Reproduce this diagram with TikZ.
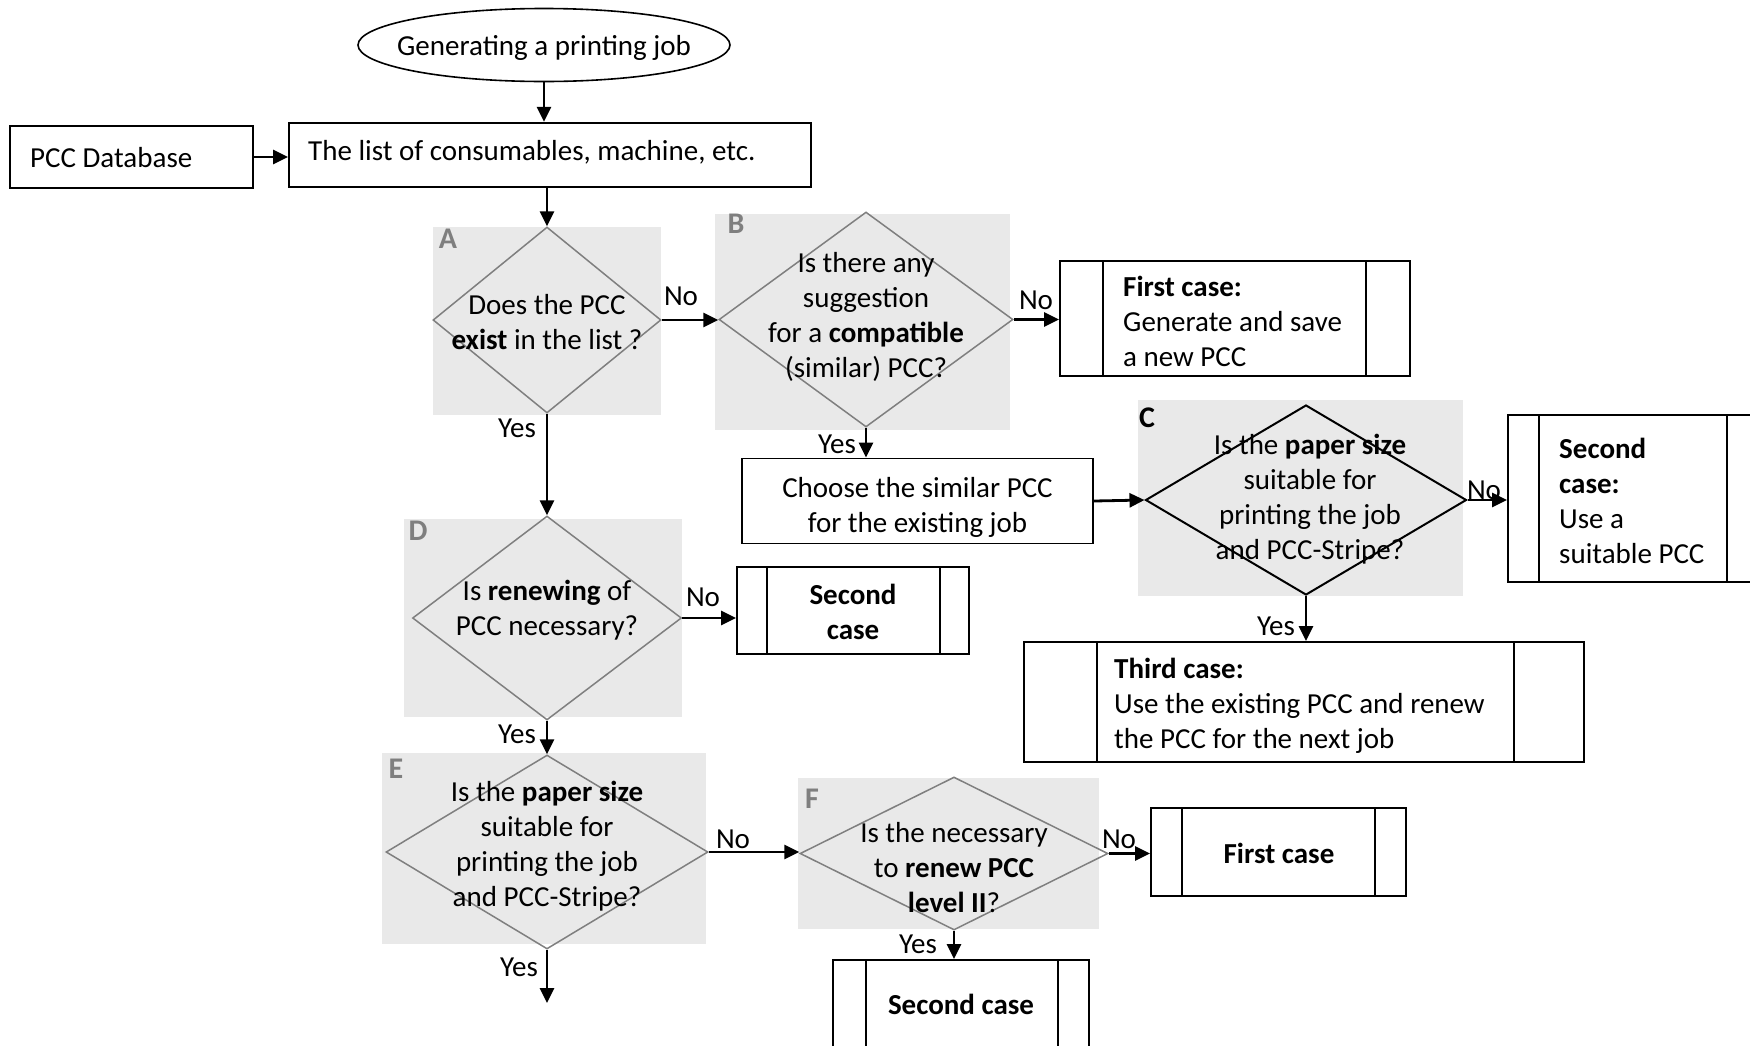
\documentclass[tikz,border=0pt]{standalone}
\usepackage{fontspec}
\setmainfont{Carlito}
\usetikzlibrary{shapes.geometric,arrows.meta,calc}

\definecolor{panel}{HTML}{E9E9E9}
\definecolor{rim}{HTML}{7F7F7F}
\definecolor{tagc}{HTML}{7F7F7F}

\begin{document}
\begin{tikzpicture}[x=1pt,y=-1pt,
  txt/.style={font=\fontsize{29}{35}\selectfont, inner sep=0pt, align=center},
  txtl/.style={font=\fontsize{29}{35}\selectfont, inner sep=0pt, align=left, anchor=west},
  box/.style={draw, line width=1.8pt, inner sep=0pt},
  proc/.style 2 args={box, path picture={
      \draw[line width=1.8pt] ([xshift=#1]path picture bounding box.north west) -- ([xshift=#1]path picture bounding box.south west);
      \draw[line width=1.8pt] ([xshift=-#2]path picture bounding box.north east) -- ([xshift=-#2]path picture bounding box.south east);}},
  dia/.style={shape=diamond, draw=rim, line width=1.5pt, inner sep=0pt},
  arr/.style={-{Triangle[length=15pt,width=14pt]}, line width=2.8pt},
  tag/.style={font=\fontsize{30}{34}\selectfont\bfseries, text=tagc, inner sep=0pt},
  yn/.style={font=\fontsize{29}{35}\selectfont, inner sep=0pt}]

\useasboundingbox (0,0) rectangle (1750,1045);
\clip (0,0) rectangle (1750,1045);

% shaded panels behind the decisions
\fill[panel] (433,227) rectangle (661,415);
\fill[panel] (715,214) rectangle (1010,430);
\fill[panel] (1138,400) rectangle (1463,596);
\fill[panel] (404,519) rectangle (682,717);
\fill[panel] (382,753) rectangle (706,944);
\fill[panel] (798,778) rectangle (1099,929);

\node[tag] (tA) at (448,239) {A};
\node[tag] (tB) at (736,224) {B};
\node[tag, text=black] (tC) at (1147,418) {C};
\node[tag] (tD) at (418,531) {D};
\node[tag] (tE) at (396,769) {E};
\node[tag] (tF) at (812,799) {F};

% start and data boxes
\node[ellipse, draw, line width=1.6pt, minimum width=372pt, minimum height=73pt, inner sep=0pt] (start) at (544,45) {};
\node[txt] (startt) at (544,47.5) {Generating a printing job};

\node[box, minimum width=243pt, minimum height=61.5pt] (db) at (131.5,157) {};
\node[txtl] (dbt) at (30,157.5) {PCC Database};

\node[box, minimum width=522pt, minimum height=64.5pt] (list) at (550,155) {};
\node[txtl] (listt) at (308,152.5) {The list of consumables, machine, etc.};

% decisions
\node[dia, minimum width=228pt, minimum height=186pt] (dA) at (547,320) {};
\node[txt] (qA) at (547,322) {Does the PCC\\\textbf{exist} in the list ?};

\node[dia, minimum width=294pt, minimum height=215pt] (dB) at (866,319.5) {};
\node[txt] (qB) at (866,317) {Is there any\\suggestion\\for a \textbf{compatible}\\(similar) PCC?};

\node[dia, draw=black, line width=2pt, minimum width=321pt, minimum height=190pt] (dC) at (1306,500) {};
\node[txt] (qC) at (1310,499) {Is the \textbf{paper size}\\suitable for\\printing the job\\and PCC-Stripe?};

\node[dia, minimum width=269pt, minimum height=204pt] (dD) at (547,618) {};
\node[txt] (qD) at (547,610) {Is \textbf{renewing} of\\PCC necessary?};

\node[dia, minimum width=322pt, minimum height=194pt] (dE) at (547,852) {};
\node[txt] (qE) at (547,846) {Is the \textbf{paper size}\\suitable for\\printing the job\\and PCC-Stripe?};

\node[dia, minimum width=308pt, minimum height=153pt] (dF) at (954,853.5) {};
\node[txt] (qF) at (954,867.5) {Is the necessary\\to \textbf{renew PCC}\\\textbf{level II}?};

% process boxes
\node[box, minimum width=351pt, minimum height=85pt] (choose) at (917.5,501) {};
\node[txt] (chooset) at (917.5,507) {Choose the similar PCC\\for the existing job};

\node[proc={43pt}{44pt}, minimum width=350pt, minimum height=115pt] (case1) at (1235,318.5) {};
\node[txtl] (case1t) at (1123,321) {\textbf{First case:}\\Generate and save\\a new PCC};

\node[proc={31pt}{33pt}, minimum width=252pt, minimum height=167pt] (case2r) at (1634,498.5) {};
\node[txtl] (case2rt) at (1559,500.5) {\textbf{Second}\\\textbf{case:}\\Use a\\suitable PCC};

\node[proc={73pt}{70pt}, minimum width=560pt, minimum height=120pt] (case3) at (1304,702) {};
\node[txtl] (case3t) at (1114,706) {\textbf{Third case:}\\Use the existing PCC and renew\\the PCC for the next job};

\node[proc={30pt}{29pt}, minimum width=232pt, minimum height=87pt] (case2d) at (853,610.5) {};
\node[txt] (case2dt) at (853,612) {\textbf{Second}\\\textbf{case}};

\node[proc={31pt}{31pt}, minimum width=255pt, minimum height=88pt] (case1f) at (1278.5,852) {};
\node[txt] (case1ft) at (1279,853) {\textbf{First case}};

\node[proc={33pt}{31pt}, minimum width=256pt, minimum height=140pt] (case2b) at (961,1030) {};
\node[txt] (case2bt) at (961,1004) {\textbf{Second case}};

\coordinate (endE) at (547,1003);

% connectors
\draw[arr] (start.south) -- (start.south |- list.north);
\draw[arr] (db.east) -- (list.west |- db.east);
\draw[arr] (dA.north |- list.south) -- (dA.north);
\draw[arr] (dA.east) -- (dB.west |- dA.east);
\draw[arr] (dB.east) -- (case1.west |- dB.east);
\draw[arr] (dB.south) -- (dB.south |- choose.north);
\draw[arr] (choose.east) -- (dC.west);
\draw[arr] (dC.east) -- (case2r.west |- dC.east);
\draw[arr] (dC.south) -- (dC.south |- case3.north);
\draw[arr] (dA.south) -- (dD.north);
\draw[arr] (dD.east) -- (case2d.west |- dD.east);
\draw[arr] (dD.south) -- (dE.north);
\draw[arr] (dE.east) -- (dF.west |- dE.east);
\draw[arr] (dE.south) -- (endE);
\draw[arr] (dF.east) -- (case1f.west |- dF.east);
\draw[arr] (dF.south) -- (dF.south |- case2b.north);

% branch labels
\node[yn] (nA) at (681,296) {No};
\node[yn] (yA) at (517,428) {Yes};
\node[yn] (nB) at (1036,300) {No};
\node[yn] (yB) at (837,444) {Yes};
\node[yn] (nC) at (1484,490) {No};
\node[yn] (yC) at (1276,626) {Yes};
\node[yn] (nD) at (703,597) {No};
\node[yn] (yD) at (517,734) {Yes};
\node[yn] (nE) at (733,839) {No};
\node[yn] (yE) at (519,967) {Yes};
\node[yn] (nF) at (1119,839) {No};
\node[yn] (yF) at (918,944) {Yes};
\end{tikzpicture}
\end{document}
